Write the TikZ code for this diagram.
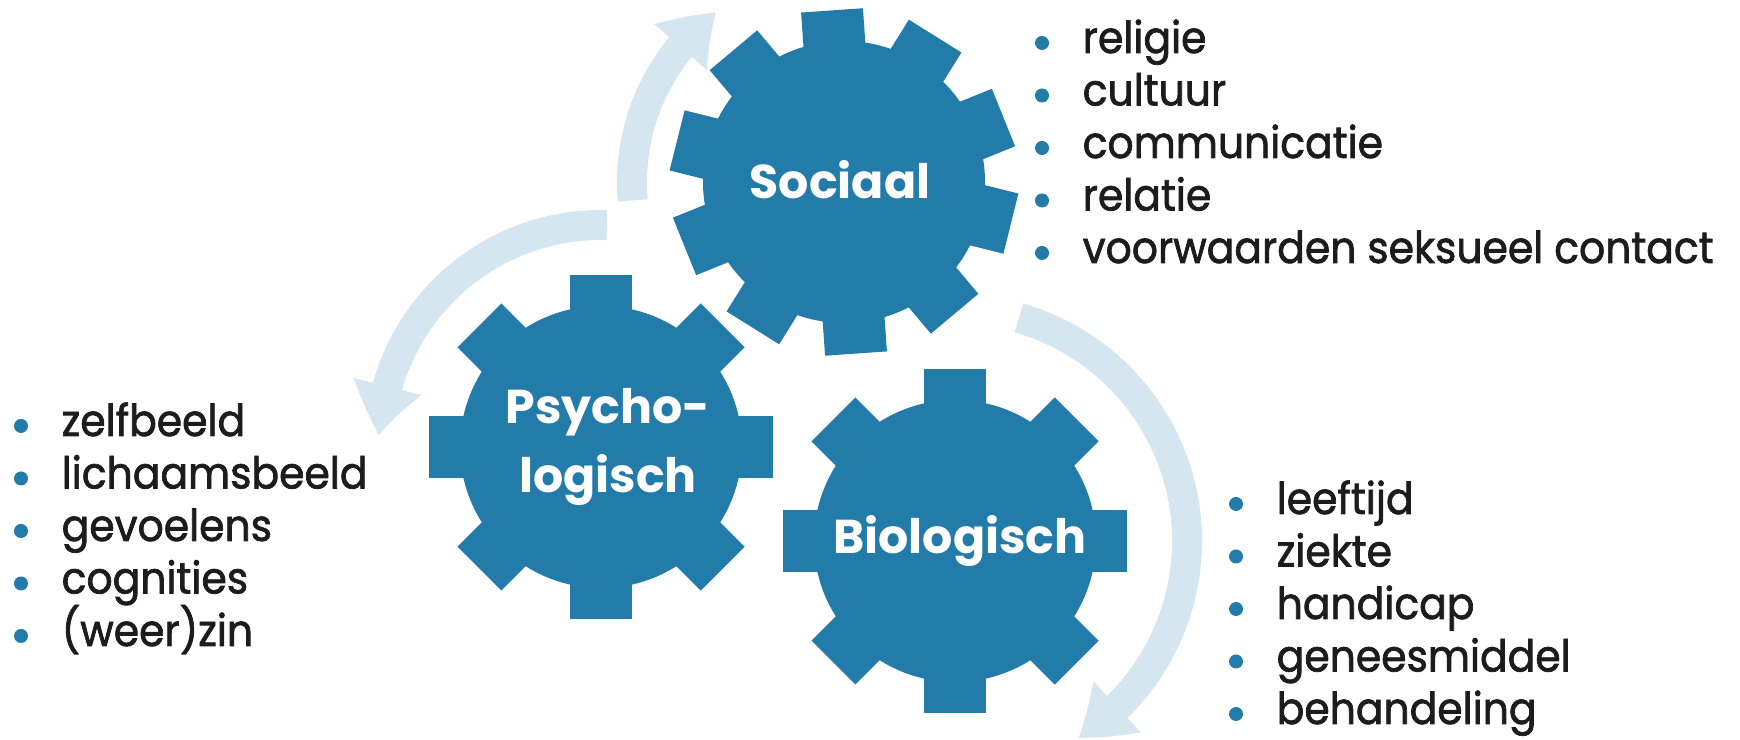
\documentclass[tikz,border=0pt]{standalone}
\usepackage{fontspec}
\setmainfont{Poppins}
\newfontfamily\listfam{Poppins}[FakeStretch=0.93, FakeBold=1.6]
\usetikzlibrary{arrows.meta,bending}
\definecolor{gearblue}{RGB}{35,123,170}
\definecolor{cycblue}{RGB}{214,230,240}
\definecolor{ink}{RGB}{28,28,28}

% gear: centre, number of teeth, angle of first tooth
\newcommand{\drawgear}[3]{%
  \fill[gearblue] (#1) circle (141);
  \foreach \k in {1,...,#2}
    \fill[gearblue, shift={(#1)}, rotate={#3+360/#2*\k}] (120,-31) rectangle (172,31);
}

\begin{document}
\begin{tikzpicture}[
  x=0.01cm, y=0.01cm,
  gearlabel/.style={text=white, font=\fontsize{13.5}{19.5}\selectfont\bfseries, align=center},
  item/.style={anchor=base west, inner sep=0pt, text=ink, font=\listfam\fontsize{12.5}{15}\selectfont},
  dot/.style={fill=gearblue},
  cyc/.style={draw=cycblue, line width=0.3cm, -{Triangle[length=0.5cm, width=0.66cm, bend]}}
]
\useasboundingbox (0,0) rectangle (1740,740);
\coordinate (socc) at (844,558);
\coordinate (psyc) at (601,293);
\coordinate (bioc) at (955,199);

% cycle arrows
\coordinate (a1s) at ([shift={(185:212)}]socc);
\coordinate (a2s) at ([shift={(88.5:222)}]psyc);
\coordinate (a3s) at ([shift={(74:232)}]bioc);
\draw[cyc] (a1s) arc[start angle=185, end angle=127, radius=212];
\draw[cyc] (a2s) arc[start angle=88.5, end angle=177, radius=222];
\draw[cyc] (a3s) arc[start angle=74, end angle=-58, radius=232];

% gears
\drawgear{socc}{10}{94}
\drawgear{psyc}{8}{0}
\drawgear{bioc}{8}{0}
\node[gearlabel] (soc) at (840,560) {Sociaal};
\node[gearlabel] (psy) at (608,293) {Psycho-\\logisch};
\node[gearlabel] (bio) at (960,199) {Biologisch};

% lists
\foreach \t [count=\i] in {religie,cultuur,communicatie,relatie,voorwaarden seksueel contact}{
  \node[item] (soc-\i) at (1082,{687-52.5*(\i-1)}) {\t};
  \fill[dot] ([shift={(-40,10)}]soc-\i.base west) circle (7);
}
\foreach \t [count=\i] in {zelfbeeld,lichaamsbeeld,gevoelens,cognities,{(weer)zin}}{
  \node[item] (psy-\i) at (61,{304-52.5*(\i-1)}) {\t};
  \fill[dot] ([shift={(-40,10)}]psy-\i.base west) circle (7);
}
\foreach \t [count=\i] in {leeftijd,ziekte,handicap,geneesmiddel,behandeling}{
  \node[item] (bio-\i) at (1276,{226-52.5*(\i-1)}) {\t};
  \fill[dot] ([shift={(-40,10)}]bio-\i.base west) circle (7);
}
\end{tikzpicture}
\end{document}
